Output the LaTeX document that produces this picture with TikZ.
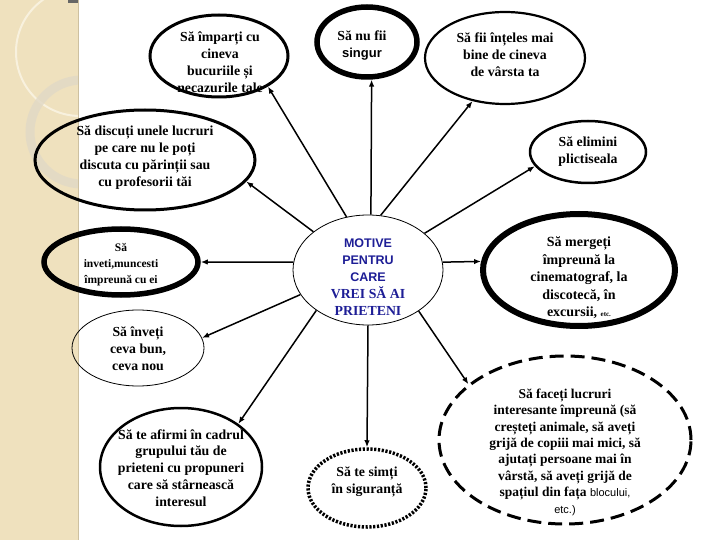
\documentclass[tikz,border=0pt]{standalone}
\usepackage{fontspec}
\setmainfont{Liberation Serif}
\newfontfamily\arialf{Liberation Sans}
\usetikzlibrary{shapes.geometric,arrows.meta}
\definecolor{stripbeige}{RGB}{239,225,190}
\definecolor{stripedge}{RGB}{205,192,160}
\definecolor{arcwhite}{RGB}{248,241,222}
\definecolor{ringgray}{RGB}{225,217,198}
\definecolor{navytext}{RGB}{30,30,150}
\begin{document}
\begin{tikzpicture}[x=1pt,y=-1pt,
  bub/.style={ellipse, draw=black, inner sep=0pt},
  txt/.style={align=center, inner sep=0pt, font=\bfseries\fontsize{13.8}{17}\selectfont},
  arr/.style={line width=1.5pt, -{Latex[length=7pt,width=5.5pt]}}]
\useasboundingbox (0,0) rectangle (720,540);
\fill[white] (0,0) rectangle (720,540);
% decorative left strip
\fill[stripbeige] (0,0) rectangle (78,540);
\begin{scope}
\clip (0,0) rectangle (78,540);
\draw[arcwhite, line width=2pt] (80,52) circle (64);
\draw[ringgray, line width=9pt, opacity=0.8] (82,132) circle (52);
\end{scope}
\draw[stripedge, line width=0.8pt] (78,0) -- (78,540);
\fill[black!60] (68,0) rectangle (78,3);

% ellipses
\node[bub, line width=3pt, minimum width=138pt, minimum height=82pt] (e1) at (219,56) {};
\node[bub, line width=5.5pt, minimum width=100pt, minimum height=70pt] (e2) at (367,42) {};
\node[bub, line width=2.2pt, minimum width=160pt, minimum height=92pt] (e3) at (505,58) {};
\node[bub, line width=3pt, minimum width=220pt, minimum height=100pt] (e4) at (145,160) {};
\node[bub, line width=2.5pt, minimum width=116pt, minimum height=62pt] (e5) at (588,152) {};
\node[bub, line width=5.5pt, minimum width=154pt, minimum height=66pt] (e6) at (121,262) {};
\node[bub, line width=0.8pt, minimum width=132pt, minimum height=76pt] (e7) at (138,348) {};
\node[bub, line width=0.8pt, minimum width=150pt, minimum height=110pt] (c) at (368,270) {};
\node[bub, line width=6pt, minimum width=192pt, minimum height=112pt] (e9) at (579,270) {};
\node[bub, line width=2.5pt, minimum width=162pt, minimum height=118pt] (e10) at (181,467) {};
\node[bub, line width=3.5pt, dash pattern=on 2.2pt off 1.6pt, minimum width=118pt, minimum height=78pt] (e11) at (367,488) {};
\node[bub, line width=3pt, dash pattern=on 14pt off 7pt, minimum width=252pt, minimum height=168pt] (e12) at (565,440) {};

% texts
\node[txt] (t1) at (220,62) {Să împarți cu\\cineva\\bucuriile și\\necazurile tale};
\node[txt] (t2) at (362,46) {Să nu fii\\{\arialf\fontsize{13}{16}\selectfont singur}};
\node[txt] (t3) at (505,55) {Să fii înțeles mai\\bine de cineva\\de vârsta ta};
\node[txt] (t4) at (145,158) {Să discuți unele lucruri\\pe care nu le poți\\discuta cu părinții sau\\cu profesorii tăi};
\node[txt] (t5) at (588,152) {Să elimini\\plictiseala};
\node[txt, font=\bfseries\fontsize{11.5}{16}\selectfont] (t6) at (121,265) {Să\\inveti,muncesti\\împreună cu ei};
\node[txt] (t7) at (138,349) {Să înveți\\ceva bun,\\ceva nou};
\node[txt, text=navytext] (tc) at (368,277) {{\arialf\fontsize{12.5}{16}\selectfont MOTIVE}\\{\arialf\fontsize{12.5}{16}\selectfont PENTRU}\\{\arialf\fontsize{12.5}{16}\selectfont CARE}\\VREI SĂ AI\\PRIETENI};
\node[txt, font=\bfseries\fontsize{14}{17.5}\selectfont] (t9) at (579,278) {Să mergeți\\împreună la\\cinematograf, la\\discotecă, în\\excursii, {\fontsize{7}{8}\selectfont etc.}};
\node[txt, font=\bfseries\fontsize{13.8}{16.8}\selectfont] (t10) at (181,468) {Să te afirmi în cadrul\\grupului tău de\\prieteni cu propuneri\\care să stârnească\\interesul};
\node[txt] (t11) at (367,482) {Să te simți\\în siguranță};
\node[txt, font=\bfseries\fontsize{13.5}{16.4}\selectfont] (t12) at (565,452) {Să faceți lucruri\\interesante împreună (să\\creșteți animale, să aveți\\grijă de copiii mai mici, să\\ajutați persoane mai în\\vârstă, să aveți grijă de\\spațiul din fața {\arialf\mdseries\fontsize{11}{16.4}\selectfont blocului,}\\{\arialf\mdseries\fontsize{11}{16.4}\selectfont etc.)}};

% connectors
\draw[arr] (c.112.7) -- (e1.-32.5);
\draw[arr] (c.87) -- (e2.-83.5);
\draw[arr] (c.77.5) -- (e3.-127);
\draw[arr] (c.145.8) -- (e4.-12.5);
\draw[arr] (c.33.7) -- (e5.195.4);
\draw[arr] (c.174) -- (e6.0);
\draw[arr] (c.200) -- (e7.9);
\draw[arr] (c.6) -- (e9.175);
\draw[arr] (c.218) -- (e10.37.6);
\draw[arr] (c.270) -- (e11.90);
\draw[arr] (c.-39) -- (e12.150);
\end{tikzpicture}
\end{document}
